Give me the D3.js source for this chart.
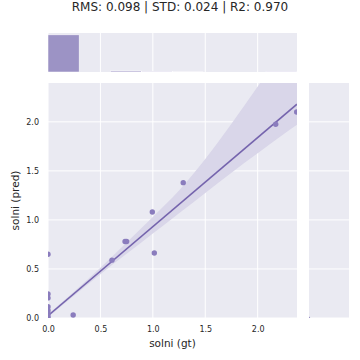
<!DOCTYPE html>
<html>
<head>
<meta charset="utf-8">
<script src="https://cdn.jsdelivr.net/npm/d3@7"></script>
<style>
  body { margin: 0; background: #fff; }
  svg { display: block; font-family: "DejaVu Sans", sans-serif; }
  .tick text { fill: #262626; font-size: 8px; }
</style>
</head>
<body>
<div id="chart"></div>
<script>
const titleText = "RMS: 0.098 | STD: 0.024 | R2: 0.970";
const xLabel = "solni (gt)";
const yLabel = "solni (pred)";

const xLimit = [0, 2.375];
const yLimit = [0, 2.396];
const tickValues = [0, 0.5, 1.0, 1.5, 2.0];

// scatter (gt vs pred)
const gtValues = [0, 0, 0, 0, 0, 0, 0, 0, 0.24, 0.61, 0.735, 0.75, 0.995, 1.014, 1.29, 2.172, 2.372];
const predValues = [0.65, 0.245, 0.205, 0.115, 0.08, 0.05, 0.02, 0.0, 0.03, 0.59, 0.78, 0.78, 1.08, 0.662, 1.38, 1.976, 2.10];

// regression fit + confidence band
const regIntercept = 0.023;
const regSlope = 0.908;
const bandX = [0, 0.25, 0.5, 0.75, 1.0, 1.25, 1.5, 1.75, 2.0, 2.25, 2.375];
const bandLow = [0.008, 0.23, 0.447, 0.654, 0.861, 1.068, 1.275, 1.482, 1.679, 1.876, 1.97];
const bandHigh = [0.038, 0.27, 0.512, 0.77, 1.03, 1.3, 1.62, 1.98, 2.36, 2.75, 2.95];

// marginal histograms
const xBinEdges = [0, 0.297, 0.594, 0.891, 1.188, 1.484, 1.781, 2.078, 2.375];
const xBinCounts = [110, 0, 3, 2, 1, 0, 0, 2];
const yBinEdges = [-0.012, 0, 0.012];
const yBinCounts = [110, 3];

const width = 360, height = 360;
const main = { left: 48, right: 297, top: 83, bottom: 318 };
const topMarg = { top: 33, bottom: 72 };
const rightMarg = { left: 309, right: 349 };

const bg = "#eaeaf2";
const pointColor = "#8a7cbd";
const lineColor = "#7564ad";
const bandColor = "#d9d6e9";
const barColor = "#9c93c5";

const x = d3.scaleLinear().domain(xLimit).range([main.left, main.right]);
const y = d3.scaleLinear().domain(yLimit).range([main.bottom, main.top]);

const svg = d3.select("#chart").append("svg")
  .attr("width", width).attr("height", height);

const defs = svg.append("defs");
const clip = (id, x0, y0, w, h) => defs.append("clipPath").attr("id", id)
  .append("rect").attr("x", x0).attr("y", y0).attr("width", w).attr("height", h);
clip("clip-main", main.left, main.top, main.right - main.left, main.bottom - main.top);
clip("clip-top", main.left, topMarg.top, main.right - main.left, topMarg.bottom - topMarg.top);
clip("clip-right", rightMarg.left, main.top, rightMarg.right - rightMarg.left, main.bottom - main.top);

// backgrounds
svg.append("rect").attr("x", main.left).attr("y", main.top)
  .attr("width", main.right - main.left).attr("height", main.bottom - main.top).attr("fill", bg);
svg.append("rect").attr("x", main.left).attr("y", topMarg.top)
  .attr("width", main.right - main.left).attr("height", topMarg.bottom - topMarg.top).attr("fill", bg);
svg.append("rect").attr("x", rightMarg.left).attr("y", main.top)
  .attr("width", rightMarg.right - rightMarg.left).attr("height", main.bottom - main.top).attr("fill", bg);

// grid lines
const grid = svg.append("g").attr("stroke", "#fff").attr("stroke-width", 1);
grid.selectAll(".gx").data(tickValues).join("line")
  .attr("x1", d => x(d)).attr("x2", d => x(d))
  .attr("y1", main.top).attr("y2", main.bottom);
grid.selectAll(".gy").data(tickValues).join("line")
  .attr("y1", d => y(d)).attr("y2", d => y(d))
  .attr("x1", main.left).attr("x2", main.right);
grid.selectAll(".gxt").data(tickValues).join("line")
  .attr("x1", d => x(d)).attr("x2", d => x(d))
  .attr("y1", topMarg.top).attr("y2", topMarg.bottom);
grid.selectAll(".gyr").data(tickValues).join("line")
  .attr("y1", d => y(d)).attr("y2", d => y(d))
  .attr("x1", rightMarg.left).attr("x2", rightMarg.right);

// top histogram
const xBins = xBinCounts.map((c, i) => ({ x0: xBinEdges[i], x1: xBinEdges[i + 1], count: c }));
const topCount = d3.scaleLinear()
  .domain([0, d3.max(xBinCounts) * 1.05])
  .range([topMarg.bottom, topMarg.top]);
svg.append("g").attr("clip-path", "url(#clip-top)")
  .selectAll("rect").data(xBins).join("rect")
  .attr("x", d => x(d.x0)).attr("width", d => x(d.x1) - x(d.x0))
  .attr("y", d => topCount(d.count)).attr("height", d => topMarg.bottom - topCount(d.count))
  .attr("fill", barColor).attr("stroke", "#fff").attr("stroke-width", 0.5);

// right histogram
const yBins = yBinCounts.map((c, i) => ({ y0: yBinEdges[i], y1: yBinEdges[i + 1], count: c }));
const rightCount = d3.scaleLinear()
  .domain([0, d3.max(yBinCounts) * 1.05])
  .range([rightMarg.left, rightMarg.right]);
svg.append("g").attr("clip-path", "url(#clip-right)")
  .selectAll("rect").data(yBins).join("rect")
  .attr("x", rightMarg.left).attr("width", d => rightCount(d.count) - rightMarg.left)
  .attr("y", d => y(d.y1)).attr("height", d => y(d.y0) - y(d.y1))
  .attr("fill", barColor);

// regression band + line + points
const plot = svg.append("g").attr("clip-path", "url(#clip-main)");
const band = d3.area()
  .x((d, i) => x(bandX[i]))
  .y0((d, i) => y(bandLow[i]))
  .y1((d, i) => y(bandHigh[i]))
  .curve(d3.curveMonotoneX);
plot.append("path").attr("d", band(bandX)).attr("fill", bandColor);

const fitLine = d3.line().x(d => x(d)).y(d => y(regIntercept + regSlope * d));
plot.append("path").attr("d", fitLine(xLimit))
  .attr("fill", "none").attr("stroke", lineColor).attr("stroke-width", 1.6);

plot.selectAll("circle").data(gtValues).join("circle")
  .attr("cx", d => x(d)).attr("cy", (d, i) => y(predValues[i]))
  .attr("r", 2.7).attr("fill", pointColor);

// axes
const xAxis = svg.append("g").attr("transform", `translate(0,${main.bottom})`)
  .call(d3.axisBottom(x).tickValues(tickValues).tickFormat(d3.format(".1f")).tickSize(0).tickPadding(8.5));
xAxis.select(".domain").remove();
const yAxis = svg.append("g").attr("transform", `translate(${main.left},0)`)
  .call(d3.axisLeft(y).tickValues(tickValues).tickFormat(d3.format(".1f")).tickSize(0).tickPadding(9));
yAxis.select(".domain").remove();
svg.selectAll(".tick text").attr("font-family", "DejaVu Sans");

svg.append("text").attr("x", (main.left + main.right) / 2).attr("y", 346.5)
  .attr("text-anchor", "middle").attr("fill", "#262626").attr("font-size", 10.5).text(xLabel);
svg.append("text").attr("transform", `translate(18.5,${(main.top + main.bottom) / 2}) rotate(-90)`)
  .attr("text-anchor", "middle").attr("fill", "#262626").attr("font-size", 10.5).text(yLabel);

svg.append("text").attr("x", width / 2).attr("y", 11)
  .attr("text-anchor", "middle").attr("fill", "#262626").attr("font-size", 12).text(titleText);
</script>
</body>
</html>
